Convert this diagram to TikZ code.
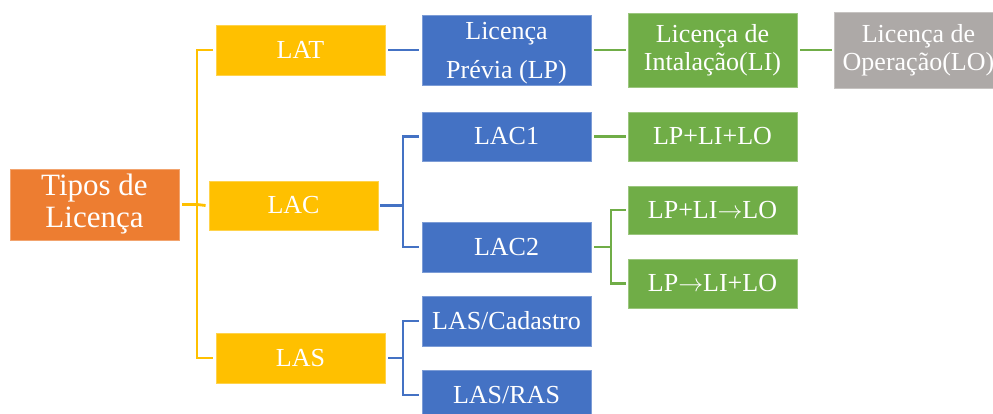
\documentclass[tikz,border=0pt]{standalone}
\usepackage{fontspec}
\setmainfont{Liberation Serif}
\definecolor{cor}{HTML}{ED7D31}
\definecolor{cye}{HTML}{FFC000}
\definecolor{cbl}{HTML}{4472C4}
\definecolor{cgr}{HTML}{70AD47}
\definecolor{cgy}{HTML}{ADA9A7}
\newcommand{\rarr}{\ensuremath{\rightarrow}}
\tikzset{
  bx/.style={rectangle, inner sep=0pt, minimum width=169pt, text=white, align=center,
    font=\fontsize{26}{28}\selectfont, line width=0.8pt},
  orb/.style={bx, fill=cor, draw=cor!70!white, font=\fontsize{31}{32}\selectfont},
  yeb/.style={bx, fill=cye, draw=cye!70!white},
  blb/.style={bx, fill=cbl, draw=cbl!70!white},
  grb/.style={bx, fill=cgr, draw=cgr!70!white},
  gyb/.style={bx, fill=cgy, draw=cgy!70!white},
  yc/.style={draw=cye, line width=2.8pt},
  bc/.style={draw=cbl, line width=2.8pt},
  gc/.style={draw=cgr, line width=2.8pt}
}
\begin{document}
\begin{tikzpicture}[x=1pt,y=-1pt]
\useasboundingbox (0,0) rectangle (993,414);
\clip (0,0) rectangle (993,414);
% nodes
\node[orb, minimum height=71pt] (tipos) at (94.5,204.5) {Tipos de\\Licença};
\node[yeb, minimum height=50pt] (lat) at (300.5,50) {LAT};
\node[yeb, minimum height=49pt] (lac) at (293.5,205.5) {LAC};
\node[yeb, minimum height=50pt] (las) at (300.5,358) {LAS};
\node[blb, minimum height=70pt] (lp) at (506.5,50) {};
\node[text=white, align=center, inner sep=0pt, font=\fontsize{26}{39}\selectfont] (lpt) at (506.5,53) {Licença\\Prévia (LP)};
\node[grb, minimum height=74pt] (li) at (712.5,50) {Licença de\\Intalação(LI)};
\node[gyb, minimum height=76pt] (lo) at (918.5,50) {Licença de\\Operação(LO)};
\node[blb, minimum height=49pt] (lac1) at (506.5,136.5) {LAC1};
\node[grb, minimum height=49pt] (lplilo) at (712.5,136.5) {LP+LI+LO};
\node[blb, minimum height=50pt] (lac2) at (506.5,247) {LAC2};
\node[grb, minimum height=48pt] (lplito) at (712.5,210) {LP+LI\rarr LO};
\node[grb, minimum height=49pt] (lptoli) at (712.5,283.5) {LP\rarr LI+LO};
\node[blb, minimum height=50pt] (cad) at (506.5,321) {LAS/Cadastro};
\node[blb, minimum height=50pt] (ras) at (506.5,395) {LAS/RAS};
% junctions
\coordinate (j1) at (197,204.5);
\coordinate (j2) at (403,205.5);
\coordinate (j3) at (403,358);
\coordinate (j4) at (611,247);
% yellow connectors
\draw[yc] ([xshift=3pt]tipos.east) -- (j1);
\draw[yc] (j1) |- ([xshift=-3pt]lat.west);
\draw[yc] (j1) |- ([xshift=-3pt]las.west);
\draw[yc] (j1) -- ([xshift=-3pt]lac.west);
% blue connectors
\draw[bc] ([xshift=3pt]lat.east) -- ([xshift=-3pt]lp.west);
\draw[bc] ([xshift=2pt]lac.east) -- (j2);
\draw[bc] (j2) |- ([xshift=-3pt]lac1.west);
\draw[bc] (j2) |- ([xshift=-3pt]lac2.west);
\draw[bc] ([xshift=3pt]las.east) -- (j3);
\draw[bc] (j3) |- ([xshift=-3pt]cad.west);
\draw[bc] (j3) |- ([xshift=-3pt]ras.west);
% green connectors
\draw[gc] ([xshift=3pt]lp.east) -- ([xshift=-2pt]li.west);
\draw[gc] ([xshift=3pt]li.east) -- ([xshift=-2pt]lo.west);
\draw[gc] ([xshift=3pt]lac1.east) -- ([xshift=-2pt]lplilo.west);
\draw[gc] ([xshift=3pt]lac2.east) -- (j4);
\draw[gc] (j4) |- ([xshift=-2pt]lplito.west);
\draw[gc] (j4) |- ([xshift=-2pt]lptoli.west);
\end{tikzpicture}
\end{document}
